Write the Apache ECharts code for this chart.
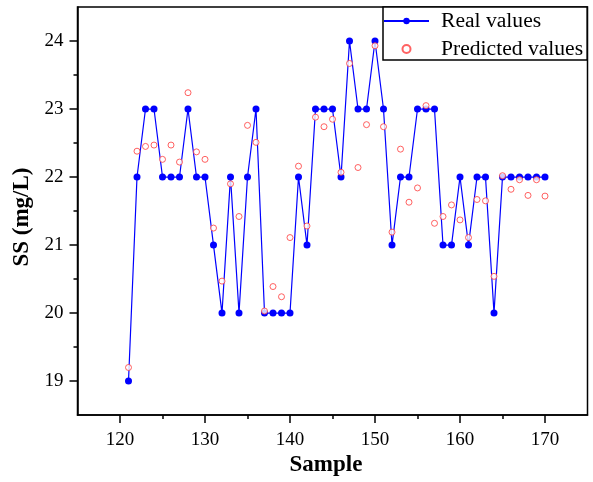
<!DOCTYPE html>
<html>
<head>
<meta charset="utf-8">
<script src="https://cdn.jsdelivr.net/npm/echarts@6/dist/echarts.min.js"></script>
<style>
html,body{margin:0;padding:0;background:#fff;}
#chart{width:593px;height:482px;}
</style>
</head>
<body>
<div id="chart"></div>
<script>
const samples = [121,122,123,124,125,126,127,128,129,130,131,132,133,134,135,136,137,138,139,140,141,142,143,144,145,146,147,148,149,150,151,152,153,154,155,156,157,158,159,160,161,162,163,164,165,166,167,168,169,170];
const realValues = [19,22,23,23,22,22,22,23,22,22,21,20,22,20,22,23,20,20,20,20,22,21,23,23,23,22,24,23,23,24,23,21,22,22,23,23,23,21,21,22,21,22,22,20,22,22,22,22,22,22];
const predictedValues = [19.20,22.38,22.45,22.47,22.26,22.47,22.22,23.24,22.37,22.26,21.25,20.47,21.90,21.42,22.76,22.51,20.03,20.39,20.24,21.11,22.16,21.28,22.88,22.74,22.85,22.07,23.67,22.14,22.77,23.93,22.74,21.19,22.41,21.63,21.84,23.05,21.32,21.42,21.59,21.37,21.11,21.67,21.65,20.54,22.02,21.82,21.96,21.73,21.96,21.72];
const xMajorTicks = [120,130,140,150,160,170];
const xMinorTicks = [125,135,145,155,165];
const yMajorTicks = [19,20,21,22,23,24];
const yMinorTicks = [19.5,20.5,21.5,22.5,23.5];

const font = 'Liberation Serif, Times New Roman, serif';
const chart = echarts.init(document.getElementById('chart'));
const axisLine = {show: true, lineStyle: {color: '#000', width: 1.5}};
chart.setOption({
  backgroundColor: '#fff',
  animation: false,
  grid: {left: 77.5, right: 5.5, top: 7, bottom: 66, show: true, borderColor: '#000', borderWidth: 1.5, containLabel: false},
  legend: {
    orient: 'vertical', left: 383, top: 7,
    padding: [3, 4, 0, 0],
    itemGap: 6, itemWidth: 45, itemHeight: 8,
    borderColor: '#000', borderWidth: 1.5, backgroundColor: '#fff',
    textStyle: {fontFamily: font, fontSize: 21.6, color: '#000', padding: [0, 0, 0, 7]},
    data: ['Real values', 'Predicted values']
  },
  xAxis: [
    {type: 'value', position: 'bottom', min: 115, max: 175,
     name: 'Sample', nameLocation: 'middle', nameGap: 30,
     nameTextStyle: {fontFamily: font, fontSize: 23, fontWeight: 'bold', color: '#000', padding: [0, 13, 0, 0]},
     axisLine: axisLine,
     axisTick: {show: true, inside: false, length: 8, lineStyle: {color: '#000', width: 1.5}, customValues: xMajorTicks},
     axisLabel: {show: true, margin: 15, fontFamily: font, fontSize: 19, color: '#000', customValues: xMajorTicks},
     splitLine: {show: false}},
    {type: 'value', position: 'bottom', min: 115, max: 175,
     axisLine: {show: false},
     axisTick: {show: true, inside: false, length: 4, lineStyle: {color: '#000', width: 1.5}, customValues: xMinorTicks},
     axisLabel: {show: false},
     splitLine: {show: false}}
  ],
  yAxis: [
    {type: 'value', position: 'left', min: 18.5, max: 24.5,
     name: 'SS (mg/L)', nameLocation: 'middle', nameGap: 43,
     nameTextStyle: {fontFamily: font, fontSize: 23, fontWeight: 'bold', color: '#000', padding: [0, 12, 0, 0]},
     axisLine: axisLine,
     axisTick: {show: true, inside: false, length: 8, lineStyle: {color: '#000', width: 1.5}, customValues: yMajorTicks},
     axisLabel: {show: true, margin: 14, fontFamily: font, fontSize: 19, color: '#000', customValues: yMajorTicks},
     splitLine: {show: false}},
    {type: 'value', position: 'left', min: 18.5, max: 24.5,
     axisLine: {show: false},
     axisTick: {show: true, inside: false, length: 4, lineStyle: {color: '#000', width: 1.5}, customValues: yMinorTicks},
     axisLabel: {show: false},
     splitLine: {show: false}}
  ],
  series: [
    {name: 'Real values', type: 'line', xAxisIndex: 0, yAxisIndex: 0,
     data: samples.map((s, i) => [s, realValues[i]]),
     symbol: 'circle', symbolSize: 7, showAllSymbol: true,
     lineStyle: {color: '#0000ff', width: 1.2},
     itemStyle: {color: '#0000ff'}, z: 2},
    {name: 'Predicted values', type: 'scatter', xAxisIndex: 0, yAxisIndex: 0,
     data: samples.map((s, i) => [s, predictedValues[i]]),
     symbol: 'circle', symbolSize: 6,
     itemStyle: {color: '#ffffff', borderColor: '#ff3b3b', borderWidth: 1}, z: 3}
  ]
});
</script>
</body>
</html>
